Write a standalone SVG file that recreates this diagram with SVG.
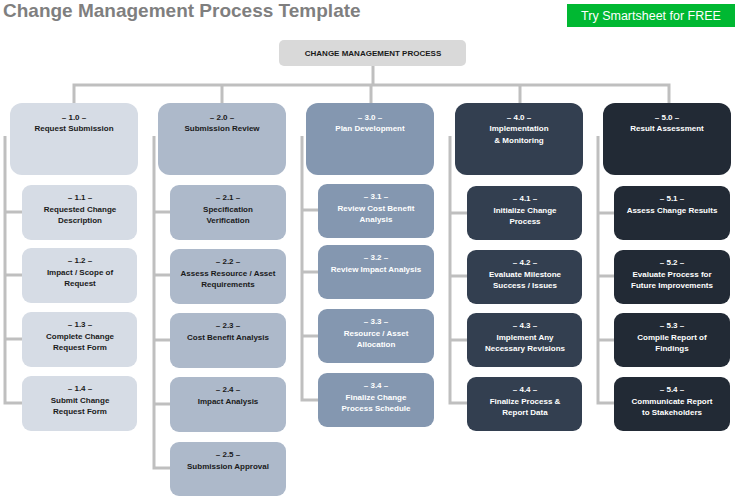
<svg xmlns="http://www.w3.org/2000/svg" width="737" height="500" viewBox="0 0 737 500">
<style>
text{font-family:"Liberation Sans",Arial,sans-serif;font-weight:bold;font-size:8px;text-anchor:middle}
.ln{stroke:#bfbfbf;stroke-width:3;fill:none}
.c1{fill:#d6dce5}.c2{fill:#adb9ca}.c3{fill:#8497b0}.c4{fill:#333f50}.c5{fill:#222a35}
.d{fill:#1a1a1a}.w{fill:#ffffff}
</style>
<rect width="737" height="500" fill="#fff"/>
<text x="3" y="17" style="font-size:19px;text-anchor:start;fill:#7f7f7f">Change Management Process Template</text>
<rect x="567" y="4" width="168" height="23" fill="#00b832"/>
<text x="651" y="20" style="font-size:12.5px;font-weight:normal;fill:#fff">Try Smartsheet for FREE</text>
<g id="connectors" class="ln">
<path d="M373 66V85M74 103V85H669V103M222 85V103M371 85V103M520 85V103"/>
<path d="M5 136V403H22M5 212H22M5 275H22M5 339H22"/>
<path d="M154 136V468H170M154 212H170M154 275H170M154 340H170M154 404H170"/>
<path d="M302 136V400H318M302 210H318M302 272H318M302 336H318"/>
<path d="M450 136V403H467M450 213H467M450 276H467M450 340H467"/>
<path d="M598 136V403H614M598 213H614M598 276H614M598 340H614"/>
</g>
<g id="root"><rect x="279" y="40" width="187" height="26" rx="5" fill="#d9d9d9"/><text x="373" y="56" class="d">CHANGE MANAGEMENT PROCESS</text></g>
<g id="n1"><rect x="10" y="103" width="128" height="72" rx="12" class="c1"/><text x="74" y="120" class="d">– 1.0 –</text><text x="74" y="131" class="d">Request Submission</text></g>
<g id="n2"><rect x="158" y="103" width="128" height="72" rx="12" class="c2"/><text x="222" y="120" class="d">– 2.0 –</text><text x="222" y="131" class="d">Submission Review</text></g>
<g id="n3"><rect x="306" y="103" width="128" height="72" rx="12" class="c3"/><text x="370" y="120" class="w">– 3.0 –</text><text x="370" y="131" class="w">Plan Development</text></g>
<g id="n4"><rect x="455" y="103" width="128" height="72" rx="12" class="c4"/><text x="519" y="120" class="w">– 4.0 –</text><text x="519" y="131" class="w">Implementation</text><text x="519" y="143" class="w">&amp; Monitoring</text></g>
<g id="n5"><rect x="603" y="103" width="128" height="72" rx="12" class="c5"/><text x="667" y="120" class="w">– 5.0 –</text><text x="667" y="131" class="w">Result Assessment</text></g>

<g id="n11"><rect x="22" y="185" width="115" height="55" rx="9" class="c1"/><text x="80" y="200" class="d">– 1.1 –</text><text x="80" y="212" class="d">Requested Change</text><text x="80" y="223" class="d">Description</text></g>
<g id="n12"><rect x="22" y="248" width="115" height="55" rx="9" class="c1"/><text x="80" y="263" class="d">– 1.2 –</text><text x="80" y="275" class="d">Impact / Scope of</text><text x="80" y="286" class="d">Request</text></g>
<g id="n13"><rect x="22" y="312" width="115" height="55" rx="9" class="c1"/><text x="80" y="327" class="d">– 1.3 –</text><text x="80" y="339" class="d">Complete Change</text><text x="80" y="350" class="d">Request Form</text></g>
<g id="n14"><rect x="22" y="376" width="115" height="55" rx="9" class="c1"/><text x="80" y="391" class="d">– 1.4 –</text><text x="80" y="403" class="d">Submit Change</text><text x="80" y="414" class="d">Request Form</text></g>

<g id="n21"><rect x="170" y="185" width="116" height="55" rx="9" class="c2"/><text x="228" y="200" class="d">– 2.1 –</text><text x="228" y="212" class="d">Specification</text><text x="228" y="223" class="d">Verification</text></g>
<g id="n22"><rect x="170" y="249" width="116" height="55" rx="9" class="c2"/><text x="228" y="264" class="d">– 2.2 –</text><text x="228" y="276" class="d">Assess Resource / Asset</text><text x="228" y="287" class="d">Requirements</text></g>
<g id="n23"><rect x="170" y="313" width="116" height="55" rx="9" class="c2"/><text x="228" y="328" class="d">– 2.3 –</text><text x="228" y="340" class="d">Cost Benefit Analysis</text></g>
<g id="n24"><rect x="170" y="377" width="116" height="55" rx="9" class="c2"/><text x="228" y="392" class="d">– 2.4 –</text><text x="228" y="404" class="d">Impact Analysis</text></g>
<g id="n25"><rect x="170" y="442" width="116" height="54" rx="9" class="c2"/><text x="228" y="457" class="d">– 2.5 –</text><text x="228" y="469" class="d">Submission Approval</text></g>

<g id="n31"><rect x="318" y="184" width="116" height="54" rx="9" class="c3"/><text x="376" y="199" class="w">– 3.1 –</text><text x="376" y="211" class="w">Review Cost Benefit</text><text x="376" y="222" class="w">Analysis</text></g>
<g id="n32"><rect x="318" y="245" width="116" height="54" rx="9" class="c3"/><text x="376" y="260" class="w">– 3.2 –</text><text x="376" y="272" class="w">Review Impact Analysis</text></g>
<g id="n33"><rect x="318" y="309" width="116" height="54" rx="9" class="c3"/><text x="376" y="324" class="w">– 3.3 –</text><text x="376" y="336" class="w">Resource / Asset</text><text x="376" y="347" class="w">Allocation</text></g>
<g id="n34"><rect x="318" y="373" width="116" height="54" rx="9" class="c3"/><text x="376" y="388" class="w">– 3.4 –</text><text x="376" y="400" class="w">Finalize Change</text><text x="376" y="411" class="w">Process Schedule</text></g>

<g id="n41"><rect x="467" y="186" width="115" height="54" rx="9" class="c4"/><text x="525" y="201" class="w">– 4.1 –</text><text x="525" y="213" class="w">Initialize Change</text><text x="525" y="224" class="w">Process</text></g>
<g id="n42"><rect x="467" y="250" width="115" height="54" rx="9" class="c4"/><text x="525" y="265" class="w">– 4.2 –</text><text x="525" y="277" class="w">Evaluate Milestone</text><text x="525" y="288" class="w">Success / Issues</text></g>
<g id="n43"><rect x="467" y="313" width="115" height="54" rx="9" class="c4"/><text x="525" y="328" class="w">– 4.3 –</text><text x="525" y="340" class="w">Implement Any</text><text x="525" y="351" class="w">Necessary Revisions</text></g>
<g id="n44"><rect x="467" y="377" width="115" height="54" rx="9" class="c4"/><text x="525" y="392" class="w">– 4.4 –</text><text x="525" y="404" class="w">Finalize Process &amp;</text><text x="525" y="415" class="w">Report Data</text></g>

<g id="n51"><rect x="614" y="186" width="116" height="54" rx="9" class="c5"/><text x="672" y="201" class="w">– 5.1 –</text><text x="672" y="213" class="w">Assess Change Results</text></g>
<g id="n52"><rect x="614" y="250" width="116" height="54" rx="9" class="c5"/><text x="672" y="265" class="w">– 5.2 –</text><text x="672" y="277" class="w">Evaluate Process for</text><text x="672" y="288" class="w">Future Improvements</text></g>
<g id="n53"><rect x="614" y="313" width="116" height="54" rx="9" class="c5"/><text x="672" y="328" class="w">– 5.3 –</text><text x="672" y="340" class="w">Compile Report of</text><text x="672" y="351" class="w">Findings</text></g>
<g id="n54"><rect x="614" y="377" width="116" height="54" rx="9" class="c5"/><text x="672" y="392" class="w">– 5.4 –</text><text x="672" y="404" class="w">Communicate Report</text><text x="672" y="415" class="w">to Stakeholders</text></g>
</svg>
